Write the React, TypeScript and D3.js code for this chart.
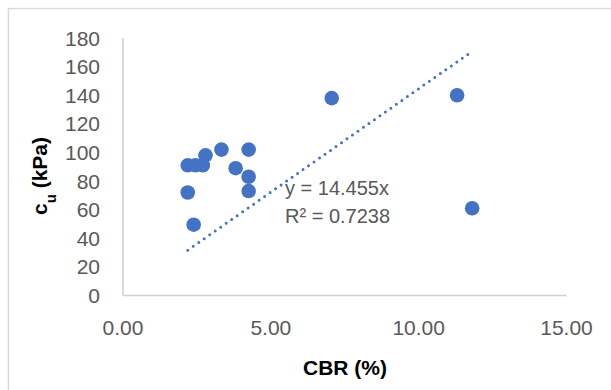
import * as d3 from 'd3';

const cbr = [2.19, 2.45, 2.7, 2.79, 3.33, 4.25, 3.81, 4.25, 4.25, 2.19, 2.39, 7.06, 11.3, 11.81];
const cu = [91, 91, 91, 98, 102, 102, 89, 83, 73, 72, 49.5, 138, 140, 61];
const slope = 14.455;
const r2 = 0.7238;
const xTicks = [0, 5, 10, 15];
const yTicks = [0, 20, 40, 60, 80, 100, 120, 140, 160, 180];

export default function App() {
  const width = 611;
  const height = 390;
  const x = d3.scaleLinear().domain([0, 15]).range([123, 566.5]);
  const y = d3.scaleLinear().domain([0, 180]).range([295.5, 38]);

  const points = cbr.map((v, i) => ({ x: v, y: cu[i] }));
  const xMin = d3.min(cbr) as number;
  const xMax = d3.max(cbr) as number;
  const trend = d3
    .line<number>()
    .x((d) => x(d))
    .y((d) => y(d * slope))([xMin, xMax]);

  const font = "'Liberation Sans', Arial, sans-serif";
  const grey = '#595959';

  return (
    <svg width={width} height={height} style={{ position: 'absolute', left: 0, top: 0, background: '#fff' }}>
      <rect x={8.5} y={8.5} width={640} height={420} fill='#fff' stroke='#d9d9d9' strokeWidth={1.5} />
      {/* axes */}
      <line x1={x(0)} y1={y(0)} x2={x(15)} y2={y(0)} stroke='#d0d0d0' strokeWidth={1.6} />
      <line x1={x(0)} y1={y(0)} x2={x(0)} y2={y(180)} stroke='#d0d0d0' strokeWidth={1.6} />
      <g style={{ fontFamily: font, fontSize: 21, fill: grey }}>
        {yTicks.map((t) => (
          <text key={`y${t}`} x={100} y={y(t) + 7.5} textAnchor='end'>
            {t}
          </text>
        ))}
        {xTicks.map((t) => (
          <text key={`x${t}`} x={x(t)} y={335} textAnchor='middle'>
            {t.toFixed(2)}
          </text>
        ))}
      </g>
      {/* trendline */}
      <path
        d={trend ?? ''}
        fill='none'
        stroke='#4472C4'
        strokeWidth={3}
        strokeLinecap='round'
        strokeDasharray='0 6.7'
      />
      <g fill='#4472C4'>
        {points.map((p, i) => (
          <circle key={`p${i}`} cx={x(p.x)} cy={y(p.y)} r={7.3} />
        ))}
      </g>
      <g style={{ fontFamily: font, fontSize: 20, fill: grey }}>
        <text x={285} y={195}>
          y = {slope}x
        </text>
        <text x={285} y={223}>
          R² = {r2}
        </text>
      </g>
      <text
        x={345}
        y={375}
        textAnchor='middle'
        style={{ fontFamily: font, fontSize: 21, fontWeight: 'bold', fill: '#000' }}
      >
        CBR (%)
      </text>
      <text
        transform='translate(47, 176) rotate(-90)'
        textAnchor='middle'
        style={{ fontFamily: font, fontSize: 21, fontWeight: 'bold', fill: '#000' }}
      >
        c<tspan baselineShift='sub' fontSize={15}>u</tspan> (kPa)
      </text>
    </svg>
  );
}
